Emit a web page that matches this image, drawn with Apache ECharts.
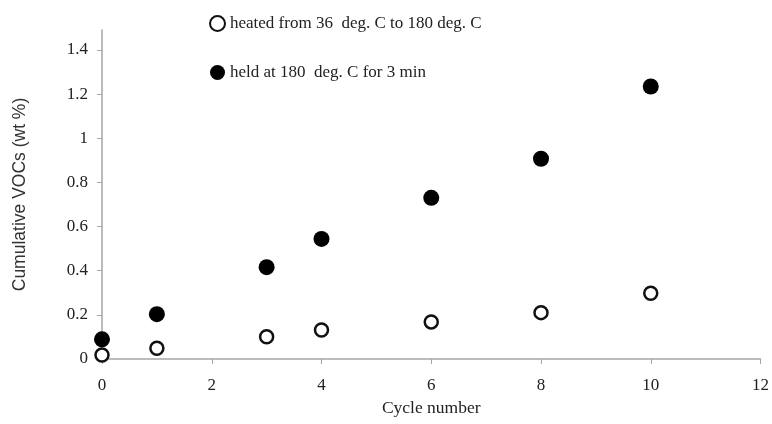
<!DOCTYPE html>
<html>
<head>
<meta charset="utf-8">
<script src="https://cdn.jsdelivr.net/npm/echarts@6/dist/echarts.min.js"></script>
<style>
  html, body { margin: 0; padding: 0; background: #fff; }
  #chart { width: 772px; height: 424px; }
</style>
</head>
<body>
<div id="chart"></div>
<script>
// cycles and cumulative VOCs
const cycles = [0, 1, 3, 4, 6, 8, 10];
const heated = [0.018, 0.049, 0.101, 0.131, 0.168, 0.21, 0.298];
const held = [0.089, 0.203, 0.416, 0.544, 0.73, 0.907, 1.234];
const yTicks = [0, 0.2, 0.4, 0.6, 0.8, 1, 1.2, 1.4];
const heatedName = "heated from 36  deg. C to 180 deg. C";
const heldName = "held at 180  deg. C for 3 min";

const font = "'Liberation Serif', 'DejaVu Serif', serif";
const sans = "'Liberation Sans', Arial, sans-serif";
const axisGray = "#a6a6a6";

const chart = echarts.init(document.getElementById("chart"));

const option = {
  animation: false,
  textStyle: { fontFamily: font },
  grid: { left: 102, right: 8, top: 30, bottom: 65 },
  legend: {
    orient: "vertical",
    left: 204,
    top: 10,
    itemGap: 32,
    itemWidth: 15,
    itemHeight: 15,
    textStyle: { fontFamily: font, fontSize: 17, color: "#222" },
    data: [heatedName, heldName]
  },
  xAxis: {
    type: "value",
    min: 0,
    max: 12,
    interval: 2,
    name: "Cycle number",
    nameLocation: "middle",
    nameGap: 40,
    nameTextStyle: { fontFamily: font, fontSize: 17.5, color: "#222" },
    splitLine: { show: false },
    axisLine: { lineStyle: { color: axisGray, width: 1.5 } },
    axisTick: { show: true, length: 5, lineStyle: { color: axisGray } },
    axisLabel: { fontFamily: font, fontSize: 17, color: "#222", margin: 18 }
  },
  yAxis: {
    type: "value",
    min: 0,
    max: 1.49,
    name: "Cumulative VOCs (wt %)",
    nameLocation: "middle",
    nameGap: 73,
    nameTextStyle: { fontFamily: sans, fontSize: 17.5, color: "#333" },
    splitLine: { show: false },
    axisLine: { show: true, lineStyle: { color: axisGray, width: 1.5 } },
    axisTick: { show: true, length: 5, lineStyle: { color: axisGray }, customValues: yTicks },
    axisLabel: { fontFamily: font, fontSize: 17, color: "#222", margin: 14, customValues: yTicks }
  },
  series: [
    {
      name: heatedName,
      type: "scatter",
      symbol: "circle",
      symbolSize: 13,
      itemStyle: { color: "#fff", borderColor: "#111", borderWidth: 2.5, opacity: 1 },
      data: cycles.map((c, i) => [c, heated[i]])
    },
    {
      name: heldName,
      type: "scatter",
      symbol: "circle",
      symbolSize: 16,
      itemStyle: { color: "#000", opacity: 1 },
      data: cycles.map((c, i) => [c, held[i]])
    }
  ]
};

chart.setOption(option);
</script>
</body>
</html>
